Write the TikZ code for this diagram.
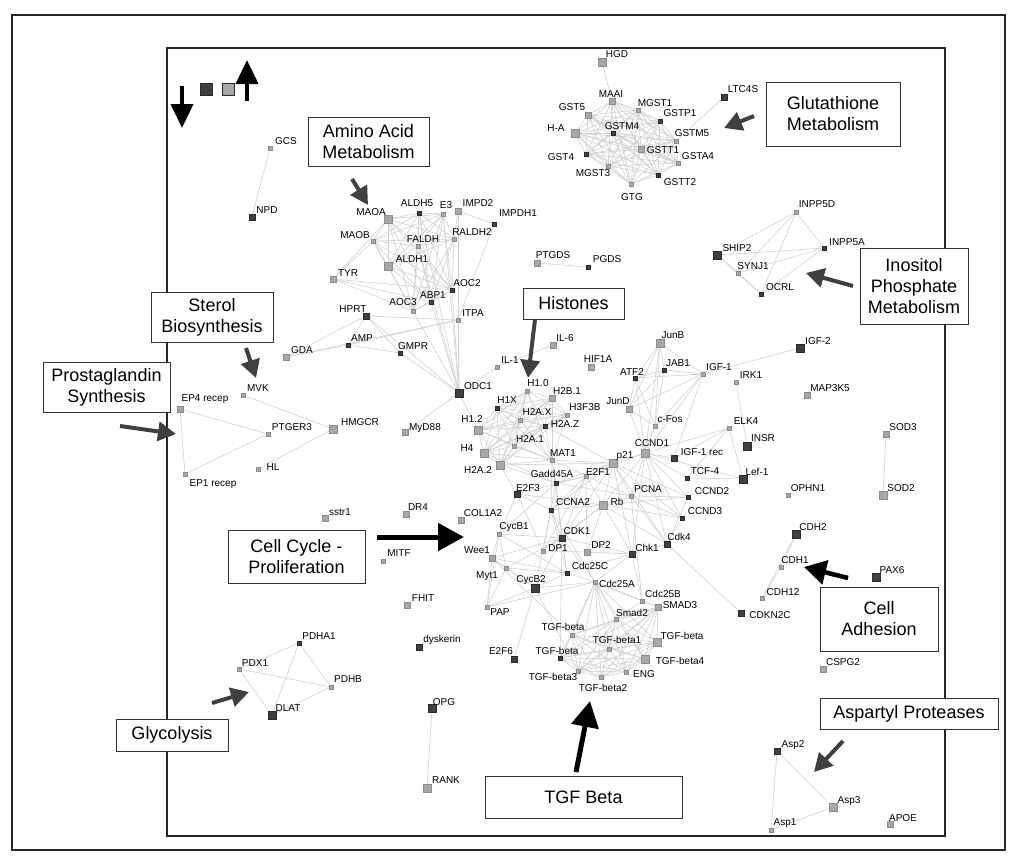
\documentclass[tikz,border=0pt]{standalone}
\usepackage{fontspec}
\setmainfont{Liberation Sans}
\usetikzlibrary{arrows.meta,backgrounds}
\definecolor{edgegray}{HTML}{CFCFCF}
\definecolor{darksq}{HTML}{404040}
\definecolor{darkbd}{HTML}{2A2A2A}
\definecolor{lightsq}{HTML}{A8A8A8}
\definecolor{lightbd}{HTML}{8C8C8C}
\definecolor{arrowgray}{HTML}{404040}
\tikzset{
  sq/.style={rectangle,inner sep=0pt,outer sep=0pt,line width=0.4pt},
  s/.style={sq,minimum size=3.5pt},
  m/.style={sq,minimum size=6pt},
  l/.style={sq,minimum size=8.5pt},
  d/.style={fill=darksq,draw=darkbd},
  g/.style={fill=lightsq,draw=lightbd},
  lbl/.style={inner sep=0pt,font=\fontsize{10}{11}\selectfont},
  edge/.style={draw=edgegray,line width=0.6pt},
  tagbox/.style={draw=black!80,line width=0.9pt,fill=white,inner sep=0pt,align=center,
    font=\fontsize{18}{21}\selectfont},
  bigarrow/.style={line width=5pt,-{Triangle[length=26pt,width=27pt]},black},
  grayarrow/.style={line width=4pt,-{Triangle[length=18pt,width=19pt]},arrowgray},
}
% gene node: name, x, y, style, text, label x, label y
\newcommand\gn[7]{\node[#4] (#1) at (#2,#3) {};\node[lbl] (#1-t) at (#6,#7) {#5};}
% fully connected group
\newcommand\clique[1]{\foreach \a [count=\i] in {#1}{\foreach \b [count=\j] in {#1}{\ifnum\j>\i\relax\draw[edge] (\a.center) -- (\b.center);\fi}}}
\begin{document}
\begin{tikzpicture}[x=1pt,y=-1pt]
\useasboundingbox (0,0) rectangle (1017,862);
% frames
\draw[line width=1.8pt,black!85] (12,15) rectangle (1005,850);
\draw[line width=2pt,black!85] (167,48) rectangle (945,836);

% legend
\draw[bigarrow,line width=4pt,-{Triangle[length=24pt,width=22pt]}] (182,86) -- (182,128);
\draw[bigarrow,line width=4pt,-{Triangle[length=24pt,width=22pt]}] (247,101) -- (247,60);
\node[sq,minimum size=12pt,d,line width=1pt] (legdark) at (206,89) {};
\node[sq,minimum size=12pt,g,line width=1pt,draw=darkbd] (leglight) at (228,89) {};

% ---- glutathione metabolism
\gn{HGD}{602}{62}{l,g}{HGD}{617}{54}
\gn{MAAI}{612}{101}{m,g}{MAAI}{611}{94}
\gn{LTC4S}{724}{97}{m,d}{LTC4S}{743}{89}
\gn{GST5}{588}{115}{m,g}{GST5}{572}{107}
\gn{MGST1}{638}{110}{s,g}{MGST1}{655}{103}
\gn{GSTP1}{660}{121}{s,d}{GSTP1}{680}{113}
\gn{HA}{575}{133}{l,g}{H-A}{556}{128}
\gn{GSTM4}{613}{133}{s,d}{GSTM4}{622}{126}
\gn{GSTM5}{676}{141}{s,g}{GSTM5}{692}{133}
\gn{GSTT1}{641}{149}{m,g}{GSTT1}{663}{150}
\gn{GSTA4}{678}{163}{s,g}{GSTA4}{698}{156}
\gn{GST4}{586}{154}{s,d}{GST4}{561}{157}
\gn{MGST3}{608}{166}{s,g}{MGST3}{593}{173}
\gn{GSTT2}{658}{175}{s,d}{GSTT2}{680}{182}
\gn{GTG}{631}{184}{s,g}{GTG}{632}{197}

\gn{GCS}{270}{148}{s,g}{GCS}{286}{141}
\gn{NPD}{252}{217}{m,d}{NPD}{267}{210}

% ---- amino acid metabolism
\gn{MAOA}{388}{219}{l,g}{MAOA}{371}{212}
\gn{ALDH5}{419}{213}{s,d}{ALDH5}{417}{203}
\gn{E3}{443}{214}{s,g}{E3}{446}{205}
\gn{IMPD2}{458}{211}{m,g}{IMPD2}{478}{203}
\gn{IMPDH1}{494}{224}{s,d}{IMPDH1}{518}{213}
\gn{MAOB}{373}{241}{s,g}{MAOB}{355}{235}
\gn{FALDH}{418}{246}{s,g}{FALDH}{423}{239}
\gn{RALDH2}{454}{239}{s,g}{RALDH2}{472}{232}
\gn{ALDH1}{388}{266}{l,g}{ALDH1}{412}{259}
\gn{TYR}{333}{279}{m,g}{TYR}{348}{273}
\gn{AOC2}{452}{290}{s,d}{AOC2}{467}{283}
\gn{ABP1}{431}{302}{s,d}{ABP1}{433}{295}
\gn{AOC3}{413}{311}{s,g}{AOC3}{403}{302}
\gn{HPRT}{366}{316}{m,d}{HPRT}{353}{309}
\gn{ITPA}{458}{320}{s,g}{ITPA}{473}{313}
\gn{AMP}{348}{345}{s,d}{AMP}{362}{338}
\gn{GMPR}{400}{353}{s,d}{GMPR}{413}{346}
\gn{GDA}{286}{357}{m,g}{GDA}{302}{350}

\gn{PTGDS}{537}{263}{m,g}{PTGDS}{553}{255}
\gn{PGDS}{588}{267}{s,d}{PGDS}{607}{259}

% ---- inositol phosphate metabolism
\gn{INPPD}{796}{212}{s,g}{INPP5D}{817}{204}
\gn{INPPA}{824}{248}{s,d}{INPP5A}{847}{242}
\gn{SHIP}{717}{255}{l,d}{SHIP2}{737}{248}
\gn{SYNJ}{738}{273}{s,g}{SYNJ1}{753}{266}
\gn{OCRL}{761}{294}{s,d}{OCRL}{780}{287}

% ---- sterol / prostaglandin
\gn{MVK}{243}{395}{s,g}{MVK}{258}{388}
\gn{EPfour}{180}{409}{m,g}{EP4 recep}{205}{399}
\gn{PTGER}{268}{434}{s,g}{PTGER3}{292}{427}
\gn{HMGCR}{333}{429}{l,g}{HMGCR}{360}{422}
\gn{HL}{258}{469}{s,g}{HL}{273}{467}
\gn{EPone}{185}{474}{s,g}{EP1 recep}{213}{484}
\gn{sstr}{325}{518}{m,g}{sstr1}{340}{512}
\gn{DRfour}{406}{514}{m,g}{DR4}{418}{507}
\gn{MITF}{383}{561}{s,g}{MITF}{399}{553}

% ---- histones and neighbours
\gn{IL1}{497}{367}{s,g}{IL-1}{510}{360}
\gn{IL6}{553}{345}{m,g}{IL-6}{565}{338}
\gn{HIF}{591}{367}{m,g}{HIF1A}{598}{359}
\gn{ODC}{459}{393}{l,d}{ODC1}{478}{386}
\gn{MyD}{405}{432}{m,g}{MyD88}{425}{428}
\gn{HoneO}{527}{391}{s,g}{H1.0}{538}{383}
\gn{HtwoB}{552}{398}{m,g}{H2B.1}{567}{391}
\gn{HoneX}{497}{408}{s,d}{H1X}{507}{400}
\gn{HthreeF}{567}{415}{s,g}{H3F3B}{585}{407}
\gn{HtwoAX}{520}{420}{s,g}{H2A.X}{537}{412}
\gn{HtwoAZ}{545}{426}{s,d}{H2A.Z}{565}{424}
\gn{HoneT}{478}{430}{l,g}{H1.2}{472}{419}
\gn{HtwoAone}{514}{446}{s,g}{H2A.1}{530}{439}
\gn{Hfour}{484}{453}{l,g}{H4}{467}{448}
\gn{MAT}{552}{460}{s,g}{MAT1}{563}{453}
\gn{HtwoAtwo}{500}{465}{l,g}{H2A.2}{478}{470}

% ---- jun / fos
\gn{JunB}{660}{343}{l,g}{JunB}{673}{335}
\gn{ATF}{635}{378}{s,d}{ATF2}{632}{372}
\gn{JAB}{664}{370}{s,d}{JAB1}{678}{363}
\gn{JunD}{629}{409}{m,g}{JunD}{618}{401}
\gn{cFos}{655}{426}{s,g}{c-Fos}{670}{419}

% ---- growth factor side
\gn{IGFtwo}{800}{348}{l,d}{IGF-2}{818}{341}
\gn{IGFone}{703}{374}{s,g}{IGF-1}{719}{367}
\gn{IRK}{736}{382}{s,g}{IRK1}{751}{375}
\gn{MAPK}{807}{395}{m,g}{MAP3K5}{830}{388}
\gn{ELK}{729}{428}{s,g}{ELK4}{746}{421}
\gn{INSR}{747}{446}{l,d}{INSR}{763}{438}
\gn{SODthree}{886}{434}{m,g}{SOD3}{903}{427}
\gn{SODtwo}{883}{495}{l,g}{SOD2}{901}{488}
\gn{OPHN}{788}{495}{s,g}{OPHN1}{808}{488}

% ---- cell cycle
\gn{CCNDone}{645}{453}{l,g}{CCND1}{652}{443}
\gn{ptwoone}{613}{463}{l,g}{p21}{625}{456}
\gn{IGFrec}{674}{458}{m,d}{IGF-1 rec}{702}{452}
\gn{Gadd}{556}{483}{s,d}{Gadd45A}{552}{474}
\gn{EtwoFone}{586}{476}{s,g}{E2F1}{598}{472}
\gn{TCF}{687}{478}{s,d}{TCF-4}{705}{471}
\gn{Lef}{743}{479}{l,d}{Lef-1}{757}{472}
\gn{EtwoFthree}{517}{494}{m,d}{E2F3}{528}{488}
\gn{PCNA}{631}{496}{s,g}{PCNA}{648}{489}
\gn{CCNDtwo}{688}{497}{s,d}{CCND2}{712}{491}
\gn{CCNA}{551}{510}{s,d}{CCNA2}{573}{502}
\gn{Rb}{603}{505}{l,g}{Rb}{617}{502}
\gn{CCNDthree}{682}{518}{s,d}{CCND3}{705}{511}
\gn{COL}{461}{520}{m,g}{COL1A2}{483}{513}
\gn{CycBone}{499}{534}{s,g}{CycB1}{514}{527}
\gn{CDKone}{562}{538}{m,d}{CDK1}{577}{531}
\gn{Cdkfour}{667}{544}{m,d}{Cdk4}{679}{537}
\gn{DPone}{543}{551}{s,g}{DP1}{558}{548}
\gn{DPtwo}{587}{552}{m,g}{DP2}{601}{545}
\gn{Chk}{632}{554}{m,d}{Chk1}{647}{548}
\gn{Wee}{492}{558}{m,g}{Wee1}{477}{550}
\gn{Myt}{506}{568}{s,g}{Myt1}{487}{576}
\gn{CdcC}{567}{573}{s,d}{Cdc25C}{590}{566}
\gn{CycBtwo}{535}{588}{l,d}{CycB2}{531}{580}
\gn{CdcA}{595}{582}{s,g}{Cdc25A}{617}{584}
\gn{CdcB}{642}{601}{s,g}{Cdc25B}{663}{594}
\gn{SMADthree}{658}{607}{m,g}{SMAD3}{680}{605}
\gn{Smadtwo}{616}{619}{s,g}{Smad2}{632}{613}
\gn{PAP}{487}{607}{s,g}{PAP}{500}{612}

% ---- TGF beta
\gn{TGFa}{572}{635}{s,g}{TGF-beta}{563}{627}
\gn{TGFone}{609}{649}{s,g}{TGF-beta1}{617}{640}
\gn{TGFb}{657}{642}{l,g}{TGF-beta}{682}{636}
\gn{EtwoFsix}{514}{659}{m,d}{E2F6}{501}{651}
\gn{TGFc}{560}{658}{s,d}{TGF-beta}{557}{651}
\gn{TGFfour}{645}{659}{l,g}{TGF-beta4}{680}{661}
\gn{TGFthree}{578}{671}{s,g}{TGF-beta3}{553}{677}
\gn{ENG}{626}{672}{s,g}{ENG}{644}{674}
\gn{TGFtwo}{601}{677}{s,g}{TGF-beta2}{603}{688}

% ---- cell adhesion and others
\gn{CDHtwo}{796}{534}{l,d}{CDH2}{813}{527}
\gn{CDHone}{781}{567}{s,g}{CDH1}{795}{560}
\gn{PAX}{876}{577}{l,d}{PAX6}{892}{570}
\gn{CDHot}{762}{598}{s,g}{CDH12}{783}{592}
\gn{CDKN}{741}{613}{m,d}{CDKN2C}{770}{615}
\gn{CSPG}{823}{669}{m,g}{CSPG2}{843}{662}
\gn{Asptwo}{777}{751}{m,d}{Asp2}{793}{745}
\gn{Aspthree}{833}{807}{l,g}{Asp3}{849}{801}
\gn{Aspone}{771}{830}{s,g}{Asp1}{785}{823}
\gn{APOE}{890}{824}{m,g}{APOE}{903}{818}

% ---- glycolysis and others
\gn{FHIT}{407}{605}{m,g}{FHIT}{423}{598}
\gn{PDHA}{299}{643}{s,d}{PDHA1}{319}{636}
\gn{dysk}{419}{647}{m,d}{dyskerin}{442}{640}
\gn{PDX}{239}{669}{s,g}{PDX1}{255}{663}
\gn{PDHB}{331}{687}{s,g}{PDHB}{348}{679}
\gn{DLAT}{272}{715}{l,d}{DLAT}{288}{708}
\gn{OPG}{432}{708}{l,d}{OPG}{444}{702}
\gn{RANK}{427}{788}{l,g}{RANK}{446}{780}

% ---- connections (behind everything)
\begin{scope}[on background layer]
\clique{MAAI,GST5,MGST1,GSTP1,HA,GSTM4,GSTM5,GSTT1,GSTA4,GST4,MGST3,GSTT2,GTG}
\clique{MAOA,ALDH5,E3,MAOB,FALDH,RALDH2,ALDH1,AOC3,ABP1,AOC2}
\clique{HoneO,HtwoB,HoneX,HthreeF,HtwoAX,HtwoAZ,HoneT,HtwoAone,Hfour,MAT,HtwoAtwo}
\clique{JunB,ATF,JAB,JunD,cFos}
\clique{TGFa,TGFone,TGFb,TGFc,TGFfour,TGFthree,ENG,TGFtwo,Smadtwo,SMADthree}
\clique{PDX,PDHA,PDHB,DLAT}
\clique{Asptwo,Aspthree,Aspone}
\clique{INPPD,INPPA,SHIP,SYNJ,OCRL}
\clique{CDHtwo,CDHone,CDHot}
\foreach \a/\b in {
  HGD/MAAI, LTC4S/GSTM5, GCS/NPD, PTGDS/PGDS, SODthree/SODtwo, OPG/RANK,
  TYR/MAOB, TYR/MAOA, TYR/ABP1, TYR/AOC2, TYR/AOC3,
  IMPD2/ITPA, IMPD2/IMPDH1, IMPDH1/ITPA, IMPD2/RALDH2,
  HPRT/ITPA, HPRT/GDA, HPRT/AMP, HPRT/GMPR, GDA/AMP, AMP/GMPR, AMP/ITPA, GDA/ITPA,
  ODC/ABP1, ODC/AOC3, ODC/AOC2, ODC/ITPA, ODC/HPRT, ODC/E3, ODC/ALDH5, ODC/FALDH,
  ODC/IMPD2, ODC/GMPR, ODC/IL1, ODC/MyD, IL1/IL6, ODC/HoneT,
  MVK/HMGCR, HMGCR/HL, EPfour/PTGER, EPfour/EPone, EPone/PTGER,
  IGFone/IGFtwo, IGFone/ATF, IGFone/JAB, IGFone/JunD, IGFone/cFos, IGFone/JunB,
  IGFone/CCNDone, IGFone/IGFrec, IRK/INSR,
  ELK/IGFrec, ELK/CCNDone, ELK/Lef, ELK/TCF, TCF/Lef,
  CCNDone/JunD, CCNDone/cFos, CCNDone/ATF, CCNDone/JunB,
  MAT/CDKone, MAT/CCNA, MAT/Gadd, MAT/EtwoFone, MAT/ptwoone, HtwoAtwo/Gadd,
  Hfour/Gadd, HtwoAtwo/ptwoone, HtwoAtwo/EtwoFthree, HtwoAZ/ptwoone,
  ptwoone/CCNDone, ptwoone/EtwoFone, ptwoone/Gadd, ptwoone/PCNA, ptwoone/Rb,
  ptwoone/CDKone, ptwoone/Cdkfour, ptwoone/CCNA, ptwoone/CCNDtwo, ptwoone/CCNDthree,
  ptwoone/Chk,
  CCNDone/Rb, CCNDone/PCNA, CCNDone/Cdkfour, CCNDone/CCNDtwo, CCNDone/CCNDthree,
  CCNDone/Chk, CCNDone/EtwoFone, CCNDone/IGFrec, CCNDone/TCF, CCNDone/Lef,
  EtwoFone/Rb, EtwoFone/EtwoFthree, EtwoFone/DPone, EtwoFone/DPtwo, EtwoFone/CCNA,
  EtwoFone/Gadd, EtwoFone/PCNA, EtwoFone/CDKone,
  Gadd/CDKone, Gadd/PCNA, Gadd/CCNA, Gadd/CycBone,
  EtwoFthree/Rb, EtwoFthree/DPone, EtwoFthree/CCNA, EtwoFthree/CycBone,
  Rb/CCNA, Rb/CDKone, Rb/DPone, Rb/DPtwo, Rb/Cdkfour, Rb/CCNDtwo, Rb/CCNDthree,
  Rb/PCNA, Rb/Chk,
  PCNA/CCNDtwo, PCNA/CCNDthree, PCNA/Cdkfour, PCNA/CdcB,
  CCNA/CDKone, CCNA/DPone, CCNA/CdcA, CCNA/CycBtwo, CCNA/CdcC,
  CycBone/CDKone, CycBone/Wee, CycBone/Myt, CycBone/CdcC, CycBone/PAP,
  CDKone/Wee, CDKone/Myt, CDKone/CdcC, CDKone/CycBtwo, CDKone/CdcA, CDKone/Chk,
  CDKone/DPone, CDKone/TGFc,
  Cdkfour/CCNDtwo, Cdkfour/CCNDthree, Cdkfour/CDKN, Cdkfour/Chk,
  Chk/CdcC, Chk/CdcA, Chk/CdcB, Chk/DPtwo,
  Wee/Myt, Wee/CycBtwo, Wee/PAP, Wee/CdcC,
  Myt/CycBtwo, Myt/PAP, Myt/CdcC,
  CdcC/CycBtwo, CdcC/CdcA, DPone/DPtwo,
  CycBtwo/CdcA, CycBtwo/PAP, CycBtwo/EtwoFsix, CycBtwo/TGFthree,
  CdcA/CdcB, CdcA/Smadtwo, CdcA/SMADthree, CdcA/TGFa, CdcA/TGFone, CdcA/TGFb,
  CdcA/TGFc, CdcA/TGFfour, CdcA/TGFthree, CdcA/ENG, CdcA/TGFtwo,
  CdcB/Smadtwo, PAP/CdcA, Wee/TGFa}
  {\draw[edge] (\a.center) -- (\b.center);}
\end{scope}

% ---- pathway tags
\node[tagbox,minimum width=121pt,minimum height=49pt] (tagAmino) at (368.5,141.5) {Amino Acid\\Metabolism};
\node[tagbox,minimum width=134pt,minimum height=64pt] (tagGlut) at (833,114) {Glutathione\\Metabolism};
\node[tagbox,minimum width=108pt,minimum height=76pt] (tagIno) at (914,286) {Inositol\\Phosphate\\Metabolism};
\node[tagbox,minimum width=101pt,minimum height=31pt] (tagHist) at (573.5,303.5) {Histones};
\node[tagbox,minimum width=122pt,minimum height=50pt] (tagSterol) at (212,317) {Sterol\\Biosynthesis};
\node[tagbox,minimum width=127pt,minimum height=50pt] (tagProst) at (106.5,387) {Prostaglandin\\Synthesis};
\node[tagbox,minimum width=137pt,minimum height=53pt] (tagCycle) at (296.5,556.5) {Cell Cycle -\\Proliferation};
\node[tagbox,minimum width=118pt,minimum height=64pt] (tagAdh) at (879,619) {Cell\\Adhesion};
\node[tagbox,minimum width=112pt,minimum height=32pt] (tagGly) at (172,735) {Glycolysis};
\node[tagbox,minimum width=178pt,minimum height=31pt] (tagAsp) at (909,713.5) {Aspartyl Proteases};
\node[tagbox,minimum width=197pt,minimum height=42pt] (tagTGF) at (583.5,797) {TGF Beta};

% ---- pointers
\coordinate (pAmino) at (352,179);
\coordinate (hAmino) at (368,205);
\draw[grayarrow] (pAmino) -- (hAmino);
\coordinate (pGlut) at (754,116);
\coordinate (hGlut) at (724,128);
\draw[grayarrow] (pGlut) -- (hGlut);
\coordinate (pIno) at (853,286);
\coordinate (hIno) at (806,273);
\draw[grayarrow] (pIno) -- (hIno);
\coordinate (hHist) at (528,378);
\draw[grayarrow] (tagHist.south -| 535,0) -- (hHist);
\coordinate (pSterol) at (246,348);
\coordinate (hSterol) at (256,378);
\draw[grayarrow] (pSterol) -- (hSterol);
\coordinate (pProst) at (120,426);
\coordinate (hProst) at (176,434);
\draw[grayarrow] (pProst) -- (hProst);
\coordinate (pGly) at (212,703);
\coordinate (hGly) at (249,692);
\draw[grayarrow] (pGly) -- (hGly);
\coordinate (pAsp) at (843,741);
\coordinate (hAsp) at (814,772);
\draw[grayarrow] (pAsp) -- (hAsp);
\coordinate (hCycle) at (464,537);
\draw[bigarrow] (377,537) -- (hCycle);
\coordinate (hTGF) at (590,701);
\draw[bigarrow] (576,772) -- (hTGF);
\coordinate (hAdh) at (804,567);
\draw[bigarrow,line width=4.5pt,-{Triangle[length=22pt,width=24pt]}] (848,578) -- (hAdh);
\end{tikzpicture}
\end{document}
